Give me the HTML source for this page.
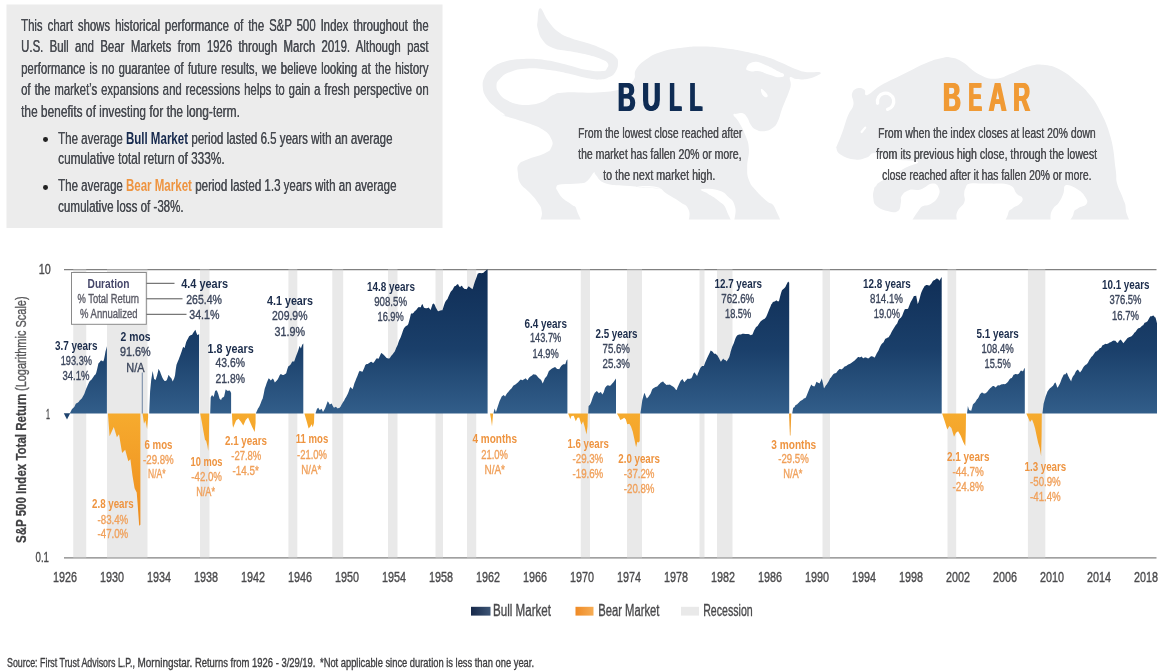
<!DOCTYPE html>
<html><head><meta charset="utf-8"><title>Bull and Bear Markets</title>
<style>
html,body{margin:0;padding:0;background:#fff;}
body{width:1169px;height:672px;overflow:hidden;position:relative;font-family:"Liberation Sans",sans-serif;}
svg{position:absolute;left:0;top:0;font-family:"Liberation Sans",sans-serif;}
b.n{color:#16294d;} b.o{color:#ee9440;}
</style></head><body>
<svg width="1169" height="672" viewBox="0 0 1169 672">
<defs>
<linearGradient id="gb" gradientUnits="userSpaceOnUse" x1="0" y1="269.6" x2="0" y2="413.6">
<stop offset="0" stop-color="#0f2d55"/><stop offset="0.55" stop-color="#1a3f6a"/><stop offset="1" stop-color="#325e8a"/></linearGradient>
<linearGradient id="go" gradientUnits="userSpaceOnUse" x1="0" y1="413.6" x2="0" y2="530">
<stop offset="0" stop-color="#f6ab2e"/><stop offset="1" stop-color="#ee8b1e"/></linearGradient>
<linearGradient id="lb" x1="0" y1="0" x2="1" y2="0"><stop offset="0" stop-color="#17294a"/><stop offset="1" stop-color="#3d5575"/></linearGradient>
<linearGradient id="lo" x1="0" y1="0" x2="1" y2="0"><stop offset="0" stop-color="#ef8a25"/><stop offset="1" stop-color="#f6ad55"/></linearGradient>
</defs>

<rect x="6.5" y="4.5" width="436" height="223.5" fill="#ececec"/>
<clipPath id="cb"><rect x="470" y="0" width="680" height="219.6"/></clipPath>
<path d="M540.2,8.2 C542.6,8.2 543.7,15.1 547.9,20.5 C552.0,26.0 552.5,27.5 558.1,31.7 C563.7,35.8 564.6,35.7 571.8,38.5 C579.0,41.3 580.9,40.8 588.9,43.6 C596.9,46.4 599.8,47.5 606.0,50.5 C612.2,53.5 612.6,53.5 615.4,56.5 C618.2,59.5 618.0,59.7 618.0,63.3 C618.0,66.9 617.4,68.7 615.4,71.9 C613.4,75.0 613.2,75.2 609.4,77.0 C605.7,78.8 604.8,79.4 599.2,79.6 C593.6,79.8 592.7,79.2 585.5,77.8 C578.3,76.4 576.8,75.4 568.4,73.6 C560.0,71.8 559.1,71.3 549.6,70.1 C540.0,68.9 536.5,68.0 527.3,68.4 C518.1,68.8 516.6,69.5 510.2,71.9 C503.8,74.3 503.1,75.5 500.0,78.7 C496.8,81.9 496.7,82.1 496.5,85.5 C496.3,88.9 496.7,89.8 499.1,93.2 C501.5,96.6 502.2,97.5 506.8,100.1 C511.4,102.7 512.8,103.4 518.8,104.4 C524.8,105.4 526.5,105.2 532.5,104.4 C538.4,103.6 539.6,103.1 544.4,100.9 C549.2,98.7 548.2,96.9 553.0,95.0 C557.8,93.0 555.0,93.0 565.0,92.4 C574.9,91.8 582.6,93.2 595.8,92.4 C608.9,91.6 612.6,91.8 621.4,89.0 C630.2,86.2 630.0,84.9 633.4,80.4 C636.8,75.9 633.0,74.5 636.0,69.6 C639.0,64.7 640.3,63.5 646.3,59.3 C652.3,55.2 652.9,54.4 661.7,51.7 C670.4,48.9 673.9,48.6 683.9,47.4 C693.9,46.2 694.9,46.3 704.4,46.5 C714.0,46.7 715.4,47.0 725.0,48.2 C734.5,49.4 735.9,49.7 745.5,51.7 C755.1,53.6 757.6,54.2 766.0,56.8 C774.4,59.4 774.2,59.8 781.4,62.8 C788.6,65.8 790.8,67.4 796.8,69.6 C802.8,71.8 801.7,71.6 807.1,72.2 C812.5,72.8 817.5,71.4 819.9,72.2 C822.3,73.0 820.3,74.0 817.4,75.6 C814.4,77.2 811.9,78.2 807.1,79.0 C802.3,79.8 800.8,79.4 796.8,79.0 C792.8,78.6 791.4,75.9 790.0,77.3 C788.6,78.7 791.2,81.2 790.8,85.0 C790.4,88.8 789.7,89.6 788.3,93.6 C786.9,97.6 786.4,98.1 784.8,102.1 C783.2,106.1 783.0,106.3 781.4,110.7 C779.8,115.1 780.0,116.9 778.0,120.9 C776.0,124.9 776.1,125.4 772.9,127.8 C769.7,130.2 768.3,130.8 764.3,131.2 C760.3,131.6 759.0,131.1 755.8,129.5 C752.6,127.9 752.6,127.2 750.6,124.4 C748.6,121.6 749.0,120.1 747.2,117.5 C745.4,114.9 745.3,114.1 742.9,113.2 C740.5,112.4 739.1,113.3 736.9,113.8 C734.7,114.2 733.1,113.1 733.5,115.0 C733.9,116.9 735.9,117.1 738.7,121.8 C741.4,126.6 743.1,129.1 745.5,135.5 C747.9,141.9 748.5,142.0 748.9,149.2 C749.3,156.4 747.2,159.1 747.2,166.3 C747.2,173.5 746.9,174.4 748.9,180.0 C750.9,185.6 751.8,185.5 755.8,190.3 C759.8,195.1 761.4,196.2 766.0,200.5 C770.6,204.9 772.6,201.5 775.4,209.1 C778.2,216.7 786.6,227.5 778.0,233.0 C769.4,238.6 748.6,239.0 738.7,233.0 C728.7,227.1 737.6,215.8 735.2,207.4 C732.8,199.0 732.4,201.1 728.4,197.1 C724.4,193.1 724.5,192.1 718.1,190.3 C711.7,188.5 703.4,188.6 701.0,189.4 C698.6,190.2 703.9,191.1 707.9,193.7 C711.8,196.3 713.7,196.6 718.1,200.5 C722.5,204.5 724.1,203.2 726.7,210.8 C729.3,218.4 737.2,227.9 729.2,233.0 C721.3,238.2 701.8,238.2 692.5,233.0 C683.1,227.9 691.8,218.0 689.0,210.8 C686.2,203.6 685.7,206.2 680.5,202.3 C675.3,198.3 672.4,197.3 666.8,193.7 C661.2,190.1 663.7,188.5 656.5,186.9 C649.3,185.3 634.2,186.5 636.0,186.9 C637.8,187.3 665.6,188.8 664.2,188.6 C662.8,188.4 643.6,187.2 630.0,186.0 C616.4,184.8 614.0,186.0 606.0,183.4 C598.0,180.8 598.6,177.5 595.8,174.9 C593.0,172.3 596.0,170.9 594.0,172.3 C592.1,173.7 590.8,178.3 587.2,180.9 C583.6,183.5 584.6,182.6 578.7,183.4 C572.7,184.2 566.7,183.5 561.5,184.3 C556.4,185.1 557.2,185.1 556.4,186.9 C555.6,188.7 556.5,189.2 558.1,192.0 C559.7,194.8 560.1,195.8 563.3,198.8 C566.4,201.8 568.6,202.0 571.8,204.8 C575.0,207.6 575.1,204.2 576.9,210.8 C578.7,217.4 587.7,227.9 579.5,233.0 C571.3,238.2 550.7,237.8 541.9,233.0 C533.1,228.3 542.9,219.7 541.9,212.5 C540.9,205.3 540.6,207.0 537.6,202.3 C534.6,197.5 533.0,196.4 529.0,192.0 C525.0,187.6 523.1,187.8 520.5,183.4 C517.9,179.0 518.3,177.6 517.9,173.2 C517.5,168.8 516.6,167.8 518.8,164.6 C521.0,161.4 521.3,162.1 527.3,159.5 C533.3,156.9 538.8,156.3 544.4,153.5 C550.0,150.7 549.7,150.9 551.3,147.5 C552.9,144.1 553.3,143.1 551.3,139.0 C549.3,134.8 549.1,133.5 542.7,129.5 C536.3,125.6 533.5,125.2 523.9,121.8 C514.3,118.5 506.1,116.6 501.7,115.0 C497.3,113.4 506.7,116.9 505.1,115.0 C503.5,113.1 499.2,111.0 494.8,106.9 C490.4,102.9 489.1,102.1 486.3,97.5 C483.5,92.9 483.2,92.0 482.8,87.3 C482.4,82.5 482.6,81.4 484.6,77.0 C486.6,72.6 486.6,72.0 491.4,68.4 C496.2,64.8 497.5,63.8 505.1,61.6 C512.7,59.4 514.7,59.4 523.9,59.0 C533.1,58.6 534.9,58.7 544.4,59.9 C554.0,61.1 555.0,61.8 565.0,64.2 C574.9,66.6 578.4,68.5 587.2,70.1 C596.0,71.7 598.0,71.4 602.6,71.0 C607.2,70.6 605.7,70.2 606.9,68.4 C608.1,66.6 609.1,65.5 607.7,63.3 C606.3,61.1 605.7,61.0 600.9,59.0 C596.1,57.0 594.4,56.5 587.2,54.7 C580.0,53.0 578.1,52.9 570.1,51.3 C562.1,49.7 559.4,50.5 553.0,47.9 C546.6,45.3 546.2,44.6 542.7,40.2 C539.2,35.8 539.1,33.7 537.9,29.1 C536.7,24.5 537.1,25.4 537.6,20.5 C538.1,15.7 537.8,8.2 540.2,8.2 Z" fill="#edeef0" clip-path="url(#cb)"/>
<path d="M746.4,67.9 C747.3,65.4 748.8,62.6 754.0,61.9 C759.3,61.2 759.6,62.8 766.0,65.3 C772.4,67.8 773.2,68.8 778.0,71.3 C782.8,73.8 783.5,73.2 784.0,74.7 C784.4,76.3 783.6,77.3 779.7,77.3 C775.8,77.3 774.9,76.3 769.4,74.7 C764.0,73.2 764.2,72.2 759.2,71.3 C754.2,70.4 754.0,72.2 750.6,71.3 C747.2,70.4 745.4,70.4 746.4,67.9 Z" fill="#fff"/>
<path d="M760.9,89.3 C761.1,87.9 762.5,89.2 764.3,91.0 C766.1,92.8 768.0,94.8 767.7,96.1 C767.5,97.5 765.3,98.0 763.5,96.1 C761.6,94.3 760.7,90.7 760.9,89.3 Z" fill="#fff"/>
<path d="M836.9,145.8 C838.4,142.3 839.9,139.2 842.4,132.1 C845.0,125.1 845.3,122.1 847.9,115.7 C850.5,109.3 852.4,109.9 853.4,104.7 C854.3,99.6 851.0,97.6 852.0,93.8 C853.0,90.0 854.6,89.3 857.5,88.3 C860.4,87.4 862.1,88.1 864.3,89.7 C866.6,91.3 863.2,96.1 867.1,95.2 C870.9,94.2 872.4,90.4 880.7,85.6 C889.1,80.8 892.4,79.7 902.6,74.6 C912.9,69.5 915.6,67.5 924.5,63.7 C933.5,59.9 934.6,59.6 941.0,58.2 C947.4,56.8 946.8,56.7 951.9,57.7 C957.0,58.6 956.5,58.4 962.9,62.3 C969.3,66.3 971.6,70.8 979.3,74.6 C987.0,78.5 988.1,79.1 995.7,78.7 C1003.4,78.4 1004.5,76.1 1012.1,73.3 C1019.8,70.4 1020.9,68.3 1028.6,66.4 C1036.2,64.5 1037.3,64.1 1045.0,65.1 C1052.7,66.0 1053.8,66.4 1061.4,70.5 C1069.1,74.7 1071.5,77.4 1077.8,82.8 C1084.2,88.3 1083.7,87.4 1088.8,93.8 C1093.9,100.2 1094.6,100.0 1099.7,110.2 C1104.9,120.4 1107.0,123.9 1110.7,137.6 C1114.4,151.3 1114.1,158.3 1115.6,169.1 C1117.1,179.8 1115.4,176.8 1117.1,183.6 C1118.8,190.4 1120.9,192.1 1122.9,198.2 C1124.9,204.3 1125.5,202.0 1125.8,209.8 C1126.1,217.6 1136.7,226.5 1124.3,231.6 C1112.0,236.7 1084.6,235.7 1072.7,231.6 C1060.8,227.6 1072.3,219.6 1073.4,214.2 C1074.6,208.7 1074.7,210.7 1077.8,208.4 C1080.9,206.0 1084.8,206.7 1086.5,204.0 C1088.2,201.3 1087.1,200.1 1085.1,196.7 C1083.0,193.3 1082.2,192.2 1077.8,189.4 C1073.4,186.7 1069.6,184.1 1066.2,185.1 C1062.8,186.1 1065.0,189.7 1063.3,193.8 C1061.6,197.9 1061.6,198.5 1058.9,202.5 C1056.2,206.6 1055.0,204.5 1051.6,211.3 C1048.2,218.0 1054.7,226.9 1044.4,231.6 C1034.0,236.4 1015.8,235.7 1007.3,231.6 C998.8,227.6 1006.8,219.6 1008.0,214.2 C1009.2,208.7 1009.6,210.7 1012.4,208.4 C1015.1,206.0 1017.3,206.4 1019.6,204.0 C1022.0,201.6 1023.2,200.5 1022.5,198.2 C1021.9,195.8 1019.8,196.9 1016.7,193.8 C1013.7,190.8 1015.6,187.5 1009.4,185.1 C1003.3,182.7 996.4,184.0 990.5,183.6 C984.7,183.3 989.3,183.6 984.5,183.6 C979.7,183.6 974.4,182.6 970.0,183.6 C965.6,184.6 967.0,185.6 965.6,188.0 C964.3,190.4 964.5,190.4 964.2,193.8 C963.8,197.2 965.9,198.1 964.2,202.5 C962.5,206.9 959.6,205.9 956.9,212.7 C954.2,219.5 962.7,227.2 952.5,231.6 C942.3,236.0 921.1,236.7 913.3,231.6 C905.5,226.5 915.0,216.3 919.1,209.8 C923.1,203.4 926.3,207.0 930.7,204.0 C935.1,200.9 936.1,200.5 938.0,196.7 C939.9,193.0 940.1,191.0 938.7,188.0 C937.4,184.9 936.4,183.3 932.2,183.6 C927.9,184.0 926.0,187.9 920.5,189.4 C915.1,191.0 913.3,188.6 908.9,190.2 C904.5,191.7 903.5,193.1 901.6,196.0 C899.8,198.9 901.7,199.0 900.9,202.5 C900.0,206.0 900.9,208.9 898.0,211.0 C895.1,213.0 893.5,212.4 888.5,211.3 C883.6,210.1 880.5,209.2 876.9,206.2 C873.3,203.1 873.9,202.1 873.3,198.2 C872.6,194.3 873.3,192.3 874.0,189.4 C874.6,186.6 874.6,187.7 876.0,186.0 C877.4,184.2 876.2,184.3 880.0,182.0 C883.7,179.7 886.2,179.3 892.0,176.1 C897.9,172.8 898.9,171.4 905.0,168.1 C911.0,164.8 919.2,163.8 918.1,162.0 C916.9,160.1 907.7,161.2 900.0,160.1 C892.3,158.9 891.1,158.7 885.0,157.0 C879.0,155.4 878.3,152.8 874.0,152.9 C869.7,153.0 871.1,155.9 866.7,157.5 C862.3,159.0 861.2,160.3 855.1,159.6 C849.0,159.0 845.0,157.4 840.5,154.5 C836.1,151.7 837.0,149.3 836.2,147.3 C835.3,145.2 835.5,149.3 836.9,145.8 Z" fill="#edeef0" clip-path="url(#cb)"/>
<path d="M877.6,103.2 A8.2,8.2 0 1 1 887.6,109.3" fill="none" stroke="#fff" stroke-width="3.3" stroke-linecap="round"/>
<path d="M861.6,132.0 L865.2,127.6" fill="none" stroke="#fff" stroke-width="2.2" stroke-linecap="round"/>
<line x1="64" x2="1156.5" y1="269.70000000000005" y2="269.70000000000005" stroke="#808080" stroke-width="1.2"/>
<line x1="64" x2="1156.5" y1="557.8" y2="557.8" stroke="#808080" stroke-width="1.2"/>
<rect x="73.25" y="269.0" width="13.00" height="289.6" fill="#cfcfcf" fill-opacity="0.46"/>
<rect x="107" y="269.0" width="40.50" height="289.6" fill="#cfcfcf" fill-opacity="0.46"/>
<rect x="200" y="269.0" width="9.50" height="289.6" fill="#cfcfcf" fill-opacity="0.46"/>
<rect x="288.4" y="269.0" width="8.90" height="289.6" fill="#cfcfcf" fill-opacity="0.46"/>
<rect x="332.3" y="269.0" width="10.90" height="289.6" fill="#cfcfcf" fill-opacity="0.46"/>
<rect x="388" y="269.0" width="9.50" height="289.6" fill="#cfcfcf" fill-opacity="0.46"/>
<rect x="435.5" y="269.0" width="7.50" height="289.6" fill="#cfcfcf" fill-opacity="0.46"/>
<rect x="467" y="269.0" width="9.25" height="289.6" fill="#cfcfcf" fill-opacity="0.46"/>
<rect x="580.75" y="269.0" width="9.25" height="289.6" fill="#cfcfcf" fill-opacity="0.46"/>
<rect x="627" y="269.0" width="15.00" height="289.6" fill="#cfcfcf" fill-opacity="0.46"/>
<rect x="699.5" y="269.0" width="5.00" height="289.6" fill="#cfcfcf" fill-opacity="0.46"/>
<rect x="717" y="269.0" width="15.50" height="289.6" fill="#cfcfcf" fill-opacity="0.46"/>
<rect x="822.5" y="269.0" width="7.50" height="289.6" fill="#cfcfcf" fill-opacity="0.46"/>
<rect x="947.5" y="269.0" width="8.70" height="289.6" fill="#cfcfcf" fill-opacity="0.46"/>
<rect x="1027.9" y="269.0" width="17.40" height="289.6" fill="#cfcfcf" fill-opacity="0.46"/>
<path d="M63.8,413.3 L70.2,413.3 L67,419.6 Z" fill="#1f446f"/>
<path d="M70.1,413.6 L70.1,412.7 L70.9,411.2 L71.6,409.8 L72.3,408.7 L73.0,408.2 L73.7,407.5 L74.4,406.8 L75.1,405.3 L75.8,403.7 L76.5,403.3 L77.2,403.1 L77.9,402.6 L78.6,402.1 L79.3,401.1 L80.0,400.1 L80.8,399.5 L81.5,398.8 L82.2,397.7 L82.9,396.5 L83.6,395.2 L84.3,393.9 L85.0,391.9 L85.7,390.0 L86.4,388.3 L87.1,386.7 L87.8,385.1 L88.5,383.5 L89.2,382.1 L89.9,380.9 L90.7,380.3 L91.4,379.7 L92.1,378.7 L92.8,377.8 L93.5,376.7 L94.2,375.5 L94.9,374.9 L95.6,374.3 L96.3,372.5 L97.0,369.7 L97.7,366.7 L98.4,363.6 L99.1,362.8 L99.8,361.9 L100.6,360.8 L101.3,360.4 L102.0,360.8 L102.7,361.3 L103.4,361.3 L104.1,359.0 L104.8,355.4 L105.5,351.6 L106.2,348.9 L106.9,346.3 L106.9,413.6 Z" fill="url(#gb)"/>
<rect x="141.8" y="372.5" width="0.9" height="41.1" fill="#627a9a"/>
<path d="M149.2,413.6 L149.2,413.0 L150.1,391.6 L151.2,380.1 L151.9,375.7 L152.6,371.0 L153.4,374.9 L154.1,378.9 L154.9,379.5 L155.6,380.1 L156.4,377.5 L157.1,375.2 L157.9,372.0 L158.6,368.8 L159.3,370.3 L160.1,371.8 L160.8,373.8 L161.6,375.7 L162.3,377.5 L163.1,379.1 L163.8,380.1 L164.6,381.1 L165.3,380.9 L166.0,380.7 L166.8,380.0 L167.7,377.4 L168.6,374.7 L169.5,376.2 L170.5,377.6 L171.2,378.1 L172.0,379.7 L172.7,381.4 L173.5,379.8 L174.2,378.2 L175.0,375.5 L175.7,369.8 L176.5,364.8 L177.2,362.9 L177.9,361.2 L178.7,359.5 L179.4,357.5 L180.2,355.5 L180.9,353.4 L181.7,351.3 L182.4,349.0 L183.2,346.8 L183.9,347.4 L184.6,347.9 L185.4,345.1 L186.1,342.3 L186.9,340.4 L187.6,339.2 L188.4,337.7 L189.1,336.2 L189.9,335.7 L190.6,335.2 L191.3,335.0 L192.1,334.8 L192.8,333.5 L193.6,332.3 L194.5,331.0 L195.4,329.7 L196.3,332.5 L197.3,335.1 L198.2,334.8 L199.1,334.1 L199.1,413.6 Z" fill="url(#gb)"/>
<path d="M210.2,413.6 L210.2,413.0 L210.7,397.5 L211.4,396.0 L212.2,395.1 L212.9,396.2 L213.7,396.7 L214.4,394.0 L215.1,391.1 L215.9,390.4 L216.6,390.2 L217.4,391.8 L218.1,393.4 L218.9,396.2 L219.6,398.8 L220.4,399.5 L221.1,400.0 L221.8,398.3 L222.6,397.4 L223.3,397.3 L224.1,396.6 L224.8,393.4 L225.6,389.4 L226.3,389.8 L227.1,390.7 L227.8,390.8 L228.5,390.7 L229.3,390.5 L230.0,390.8 L231.1,392.9 L231.1,413.6 Z" fill="url(#gb)"/>
<path d="M256.0,413.6 L256.0,413.0 L257.0,410.8 L258.0,408.6 L258.9,407.3 L259.8,405.5 L260.7,403.2 L261.7,400.6 L262.7,398.6 L263.7,393.9 L264.7,388.8 L265.7,385.9 L266.7,382.9 L267.7,380.5 L268.7,378.2 L269.8,379.3 L270.8,380.5 L271.8,379.4 L272.8,378.4 L273.8,380.1 L274.8,382.4 L275.8,381.6 L276.8,380.5 L277.8,379.2 L278.8,377.3 L279.8,375.0 L280.8,373.9 L281.7,374.6 L282.6,374.9 L283.5,375.0 L284.4,374.5 L285.3,374.0 L286.2,373.2 L287.2,369.5 L288.2,366.5 L289.2,365.7 L290.2,365.1 L291.2,363.5 L292.2,361.4 L293.2,361.4 L294.2,361.4 L295.2,358.4 L296.2,355.8 L297.2,353.3 L298.2,350.6 L299.6,346.0 L300.9,348.4 L302.2,344.7 L303.3,343.4 L303.3,413.6 Z" fill="url(#gb)"/>
<path d="M315.6,413.6 L315.6,413.0 L317.0,408.8 L318.3,407.8 L319.6,409.9 L320.6,409.6 L321.6,408.8 L323.0,411.9 L324.0,410.2 L325.0,408.4 L325.9,406.2 L326.8,403.8 L327.7,401.2 L328.7,402.4 L329.7,404.4 L330.7,404.0 L331.7,403.6 L332.7,405.8 L333.7,407.6 L334.7,407.5 L335.7,406.8 L336.7,407.4 L337.7,408.5 L338.7,408.1 L339.7,407.7 L340.6,406.4 L341.5,404.8 L342.4,403.2 L343.3,401.8 L344.2,400.4 L345.1,398.6 L346.0,397.2 L346.9,395.5 L347.8,393.8 L348.7,391.4 L349.5,388.9 L350.4,386.9 L351.4,388.1 L352.5,389.2 L353.5,386.4 L354.5,383.0 L355.4,380.9 L356.2,378.8 L357.1,376.7 L358.0,374.4 L358.9,372.1 L359.8,370.7 L360.7,371.3 L361.6,371.5 L362.5,371.7 L363.4,369.8 L364.3,367.8 L365.2,365.2 L366.1,364.2 L367.0,364.1 L367.9,363.9 L368.7,363.3 L369.6,362.7 L370.5,362.0 L371.4,361.8 L372.3,362.4 L373.2,363.0 L374.1,361.9 L375.0,360.8 L375.9,359.2 L376.8,358.2 L377.7,358.4 L378.6,358.7 L379.5,356.7 L380.4,354.8 L381.2,353.0 L382.1,353.4 L383.0,354.2 L383.9,354.9 L384.8,356.0 L385.7,357.1 L386.6,357.9 L387.5,358.2 L388.4,358.4 L389.3,358.6 L390.2,357.4 L391.1,356.1 L392.0,355.1 L392.9,353.9 L393.7,352.8 L394.6,351.7 L395.4,349.9 L396.1,348.1 L396.9,346.4 L397.7,344.8 L398.4,342.5 L399.2,340.2 L400.0,338.8 L400.7,337.3 L401.5,335.0 L402.3,332.7 L403.1,330.2 L404.0,328.2 L404.8,327.2 L405.7,326.2 L406.6,325.7 L407.5,325.3 L408.3,324.1 L409.2,320.7 L410.1,317.2 L411.0,313.6 L411.8,313.6 L412.7,313.5 L413.6,312.8 L414.4,311.6 L415.3,310.7 L416.2,309.9 L417.1,308.8 L417.9,307.7 L418.8,307.0 L419.8,307.3 L420.8,307.3 L421.6,305.1 L422.5,303.9 L423.3,306.2 L424.0,307.7 L424.9,308.0 L425.8,308.2 L426.7,308.3 L427.7,308.0 L428.6,307.6 L429.6,308.8 L430.6,309.9 L431.6,307.0 L432.6,304.1 L433.9,303.4 L434.9,305.3 L435.8,307.5 L436.8,309.3 L437.8,311.0 L438.7,311.3 L439.5,310.8 L440.4,310.4 L441.4,310.3 L442.4,310.2 L443.3,307.6 L444.1,304.9 L445.0,302.6 L445.8,301.1 L446.6,300.0 L447.5,298.9 L448.3,297.0 L449.1,295.3 L449.9,293.5 L450.7,291.7 L451.6,290.7 L452.4,290.0 L453.2,288.5 L454.0,287.0 L454.8,286.1 L455.6,285.9 L456.5,285.0 L457.3,284.2 L458.1,284.3 L459.1,286.3 L460.1,287.3 L461.0,286.0 L462.0,285.8 L462.9,287.5 L463.8,288.2 L464.6,288.9 L465.6,289.1 L466.6,289.3 L467.6,287.7 L468.6,286.2 L469.6,287.0 L470.5,287.8 L471.5,288.5 L472.5,289.2 L473.4,286.4 L474.3,283.5 L475.1,281.1 L476.0,278.8 L476.9,276.3 L477.7,273.8 L478.6,273.3 L479.5,272.9 L480.4,273.1 L481.2,273.2 L482.1,273.1 L483.0,273.0 L484.0,272.2 L484.9,271.3 L485.7,270.7 L486.4,270.1 L487.2,269.4 L487.6,269.6 L487.6,413.6 Z" fill="url(#gb)"/>
<path d="M493.5,413.6 L493.5,413.2 L494.6,408.4 L495.9,412.2 L496.8,409.6 L497.6,406.9 L498.6,404.0 L499.6,401.1 L500.7,398.8 L501.7,396.5 L502.7,395.8 L503.7,395.1 L505.1,396.6 L506.1,394.7 L507.2,393.0 L508.1,392.2 L509.0,391.1 L509.9,390.0 L510.8,389.1 L511.7,388.2 L512.6,386.8 L513.5,385.4 L514.5,384.9 L515.4,384.5 L516.3,383.8 L517.2,383.1 L518.1,382.2 L519.0,381.2 L519.9,380.3 L520.8,379.6 L521.8,379.9 L522.7,380.2 L523.6,379.5 L524.6,378.9 L525.6,378.3 L526.7,379.4 L527.7,380.2 L528.6,378.2 L529.5,377.3 L530.4,376.5 L531.3,375.9 L532.3,375.3 L533.2,374.2 L534.2,374.4 L535.2,374.4 L536.2,375.1 L537.3,376.2 L538.3,377.6 L539.3,378.5 L540.4,379.3 L541.4,380.5 L542.7,383.5 L543.8,381.0 L544.8,378.6 L545.8,377.2 L546.9,375.9 L547.9,373.5 L548.9,371.1 L549.9,370.2 L551.0,369.3 L552.0,368.6 L553.0,367.9 L554.0,367.5 L555.1,367.1 L556.1,368.0 L557.1,368.9 L558.1,369.1 L559.2,369.2 L560.2,367.6 L561.2,365.9 L562.3,365.1 L563.3,364.3 L564.3,364.3 L565.3,364.3 L566.7,360.1 L567.4,359.4 L567.4,413.6 Z" fill="url(#gb)"/>
<path d="M588.2,413.6 L588.2,413.2 L588.6,405.9 L590.0,404.8 L591.3,401.7 L592.7,397.5 L593.7,395.1 L594.8,392.7 L595.8,391.9 L596.8,391.1 L597.8,391.9 L598.9,393.2 L599.9,392.5 L600.9,391.9 L602.3,394.5 L603.7,392.2 L605.0,388.1 L606.1,386.6 L607.1,385.4 L608.1,385.3 L609.1,385.7 L610.2,385.7 L611.2,384.8 L612.2,383.6 L613.2,382.5 L614.3,381.0 L615.3,379.5 L616.0,378.5 L616.0,413.6 Z" fill="url(#gb)"/>
<path d="M640.5,413.6 L640.5,412.8 L641.4,406.4 L642.3,400.2 L643.1,397.2 L643.8,394.8 L644.6,392.8 L645.4,395.3 L646.1,396.9 L646.9,398.4 L647.8,397.6 L648.7,396.5 L649.6,395.0 L650.4,393.9 L651.3,391.7 L652.1,389.5 L653.0,388.4 L653.8,388.1 L654.7,387.6 L655.5,387.0 L656.4,386.7 L657.2,386.6 L658.1,385.5 L658.9,384.4 L659.8,383.7 L660.6,382.8 L661.5,382.2 L662.3,381.7 L663.2,381.5 L664.0,382.8 L664.9,383.5 L665.7,384.2 L666.5,385.0 L667.4,384.7 L668.2,384.7 L669.1,384.7 L669.9,384.6 L670.8,385.3 L671.6,385.7 L672.5,386.2 L673.3,386.8 L674.2,387.5 L675.0,388.6 L675.9,389.7 L676.7,389.9 L677.5,387.6 L678.2,386.0 L679.0,384.2 L679.8,382.5 L680.7,380.8 L681.5,379.9 L682.4,379.0 L683.1,380.3 L683.9,381.6 L684.7,382.3 L685.5,380.8 L686.4,379.9 L687.2,379.1 L688.0,378.5 L688.9,378.9 L689.7,378.7 L690.6,378.5 L691.4,378.2 L692.2,376.7 L692.9,375.1 L693.6,373.2 L694.4,372.3 L695.3,373.6 L696.2,374.8 L697.1,375.9 L697.9,373.6 L698.8,371.4 L699.6,369.5 L700.5,367.7 L701.3,366.8 L702.2,365.9 L703.0,365.9 L703.9,366.0 L704.7,363.7 L705.6,361.5 L706.4,359.7 L707.3,357.8 L708.1,356.0 L709.0,354.3 L709.8,352.4 L710.7,350.5 L711.5,351.0 L712.4,351.4 L713.2,352.6 L714.1,353.8 L714.9,353.8 L715.8,353.8 L716.6,354.7 L717.5,355.5 L718.3,357.1 L719.2,358.6 L720.0,360.2 L720.9,361.8 L721.6,360.8 L722.4,359.8 L723.1,358.6 L724.0,359.5 L724.8,359.9 L725.7,360.2 L726.5,361.4 L727.4,360.3 L728.3,358.7 L729.2,357.2 L730.0,354.4 L730.7,351.5 L731.4,349.2 L732.2,346.8 L733.0,345.0 L733.9,343.1 L734.7,340.6 L735.6,338.0 L736.4,336.6 L737.3,335.2 L738.1,334.9 L739.0,334.6 L739.8,334.6 L740.7,334.6 L741.5,334.2 L742.4,333.8 L743.2,333.8 L744.1,333.8 L744.9,333.9 L745.8,333.9 L746.6,333.9 L747.5,333.9 L748.3,334.1 L749.1,334.3 L750.0,334.8 L750.8,335.2 L751.7,334.8 L752.5,334.4 L753.4,332.2 L754.2,330.2 L755.1,328.7 L755.9,327.2 L756.8,326.6 L757.6,325.9 L758.5,324.6 L759.3,323.3 L760.2,322.1 L761.0,321.0 L761.9,320.4 L762.7,319.7 L763.6,319.3 L764.4,318.9 L765.3,318.0 L766.1,317.1 L767.0,315.0 L767.8,313.0 L768.7,310.8 L769.5,308.7 L770.4,306.7 L771.2,304.6 L772.1,303.4 L772.9,302.1 L773.8,301.8 L774.6,301.5 L775.5,300.9 L776.3,300.3 L777.2,300.9 L778.1,301.6 L779.0,301.1 L779.8,297.7 L780.5,295.1 L781.2,292.6 L782.0,290.2 L782.8,289.4 L783.7,288.7 L784.5,288.0 L785.4,287.0 L786.3,284.9 L787.2,283.3 L788.1,281.6 L789.2,282.7 L789.2,413.6 Z" fill="url(#gb)"/>
<path d="M792.3,413.6 L792.3,412.8 L793.2,407.7 L794.0,407.6 L794.7,406.8 L795.4,405.2 L796.2,404.8 L797.0,404.6 L797.9,403.6 L798.7,402.7 L799.6,401.8 L800.4,400.9 L801.3,400.4 L802.1,399.9 L803.0,399.5 L803.8,398.5 L804.7,398.3 L805.5,398.1 L806.4,396.3 L807.1,394.5 L807.9,392.6 L808.6,390.7 L809.5,388.6 L810.4,386.6 L811.3,384.6 L812.1,385.5 L812.8,385.9 L813.6,386.2 L814.3,386.6 L815.0,385.5 L815.8,383.6 L816.5,381.7 L817.3,382.2 L818.0,382.8 L818.8,383.1 L819.5,383.5 L820.2,382.0 L821.0,380.6 L821.8,378.3 L822.5,381.4 L823.3,385.0 L824.0,388.6 L824.9,387.1 L825.8,385.6 L826.7,384.4 L827.6,383.1 L828.4,381.7 L829.3,380.1 L830.1,378.2 L831.0,377.5 L831.8,376.2 L832.7,374.9 L833.5,374.0 L834.4,373.6 L835.2,373.3 L836.1,373.0 L836.9,372.1 L837.8,370.7 L838.6,369.9 L839.5,369.1 L840.3,369.0 L841.2,369.4 L842.0,368.9 L842.9,368.4 L843.7,367.5 L844.6,366.5 L845.4,366.3 L846.3,366.1 L847.1,365.2 L847.9,364.7 L848.8,364.3 L849.6,364.0 L850.5,363.6 L851.3,362.9 L852.2,362.3 L853.0,361.7 L853.9,361.1 L854.7,360.5 L855.6,359.6 L856.4,358.7 L857.3,357.7 L858.1,356.9 L859.0,357.1 L859.8,357.5 L860.7,356.9 L861.5,356.6 L862.4,357.4 L863.2,358.2 L864.1,357.9 L864.9,357.3 L865.8,357.5 L866.6,357.7 L867.5,358.2 L868.3,358.4 L869.2,357.8 L870.0,357.2 L870.9,356.3 L871.7,356.3 L872.6,356.5 L873.4,356.8 L874.3,357.7 L875.1,356.7 L876.0,355.0 L876.8,353.2 L877.6,351.9 L878.5,350.6 L879.3,348.5 L880.2,346.4 L881.0,344.9 L881.9,343.8 L882.7,343.0 L883.6,342.3 L884.4,340.6 L885.3,338.8 L886.1,338.4 L887.0,338.0 L887.8,337.6 L888.7,337.2 L889.5,335.8 L890.4,334.6 L891.2,332.8 L892.1,331.0 L892.9,329.7 L893.8,328.3 L894.6,327.0 L895.5,325.4 L896.3,324.5 L897.2,323.5 L898.0,321.3 L898.9,319.3 L899.7,318.6 L900.6,317.9 L901.4,317.0 L902.3,315.5 L903.1,313.3 L904.0,311.1 L904.8,309.3 L905.7,309.0 L906.5,309.1 L907.4,309.1 L908.2,308.4 L909.0,306.2 L909.9,304.1 L910.7,302.0 L911.6,300.5 L912.3,299.2 L913.1,297.7 L913.9,296.1 L914.6,296.0 L915.4,295.9 L916.1,295.4 L916.9,299.4 L917.7,304.0 L918.4,302.5 L919.2,299.9 L919.9,297.5 L920.6,294.7 L921.4,292.3 L922.2,290.6 L922.9,288.9 L923.8,287.4 L924.6,285.9 L925.5,285.4 L926.3,285.0 L927.2,285.1 L928.0,285.3 L928.8,285.4 L929.7,285.6 L930.5,284.5 L931.4,283.5 L932.2,282.1 L933.1,280.8 L933.9,280.3 L934.8,279.9 L935.6,279.2 L936.5,278.6 L937.2,278.7 L938.0,278.8 L938.7,279.8 L939.4,280.8 L940.2,279.5 L940.9,278.2 L941.7,277.1 L941.7,413.6 Z" fill="url(#gb)"/>
<path d="M967.1,413.6 L967.1,412.9 L967.9,406.1 L968.6,408.5 L969.3,410.2 L970.2,410.2 L971.1,411.1 L972.0,408.0 L972.9,404.6 L973.6,403.8 L974.4,403.0 L975.2,402.2 L976.1,400.7 L977.0,399.2 L977.9,398.6 L978.6,397.2 L979.3,395.7 L980.0,394.3 L980.8,393.5 L981.5,392.7 L982.3,392.6 L983.2,393.3 L984.1,393.5 L985.0,393.6 L985.9,392.9 L986.8,392.2 L987.7,391.2 L988.6,389.9 L989.5,389.0 L990.4,388.1 L991.2,387.4 L992.1,386.6 L993.0,386.0 L993.9,386.0 L994.8,386.8 L995.7,387.5 L996.6,386.5 L997.5,385.5 L998.4,385.2 L999.3,385.5 L1000.2,384.9 L1001.1,384.4 L1002.0,384.3 L1002.9,384.2 L1003.8,384.1 L1004.6,384.3 L1005.5,383.9 L1006.4,383.3 L1007.3,382.4 L1008.2,381.5 L1009.1,380.0 L1010.0,378.8 L1010.9,378.3 L1011.8,377.9 L1012.7,376.4 L1013.6,374.8 L1014.5,374.4 L1015.4,374.0 L1016.2,374.1 L1017.1,374.5 L1018.0,374.1 L1018.9,373.7 L1019.8,372.2 L1020.7,370.8 L1021.4,370.7 L1022.1,370.8 L1022.9,371.6 L1023.6,370.1 L1024.3,368.1 L1024.8,368.8 L1024.8,413.6 Z" fill="url(#gb)"/>
<path d="M1042.5,413.6 L1042.5,412.9 L1043.6,403.7 L1044.3,401.3 L1045.0,398.8 L1045.7,396.2 L1046.6,393.9 L1047.5,391.6 L1048.4,390.2 L1049.3,389.1 L1050.2,388.1 L1051.1,387.4 L1052.0,386.6 L1052.9,385.9 L1053.8,384.4 L1054.6,383.1 L1055.5,382.4 L1056.4,384.8 L1057.3,387.8 L1058.2,386.8 L1059.1,385.1 L1060.0,383.4 L1060.9,380.9 L1061.8,378.5 L1062.7,376.7 L1063.6,374.8 L1064.5,374.3 L1065.2,374.4 L1066.0,373.5 L1066.8,372.4 L1067.5,374.2 L1068.2,376.0 L1068.9,377.2 L1069.6,378.7 L1070.4,380.0 L1071.1,381.4 L1071.8,379.1 L1072.6,376.9 L1073.4,375.8 L1074.3,374.7 L1075.2,372.8 L1076.1,370.9 L1077.0,370.2 L1077.9,369.5 L1078.6,370.4 L1079.3,371.4 L1080.0,372.4 L1080.8,371.6 L1081.6,370.4 L1082.4,369.1 L1083.2,367.6 L1083.9,366.6 L1084.6,365.8 L1085.4,364.9 L1086.1,364.6 L1086.8,364.2 L1087.5,363.2 L1088.2,362.2 L1088.9,360.8 L1089.6,359.5 L1090.4,358.4 L1091.1,357.3 L1091.8,356.6 L1092.5,355.9 L1093.2,355.0 L1093.9,354.1 L1094.6,352.9 L1095.4,351.7 L1096.1,351.4 L1096.8,351.2 L1097.5,350.6 L1098.2,350.3 L1098.9,349.3 L1099.6,348.3 L1100.4,348.1 L1101.1,347.8 L1101.8,346.5 L1102.5,345.2 L1103.2,345.0 L1103.9,344.8 L1104.6,344.2 L1105.4,343.8 L1106.1,343.9 L1106.8,343.9 L1107.5,343.7 L1108.2,343.4 L1108.9,343.0 L1109.6,342.6 L1110.4,342.2 L1111.1,341.9 L1111.8,341.5 L1112.5,341.1 L1113.2,340.8 L1113.9,340.6 L1114.6,340.7 L1115.4,340.8 L1116.2,341.8 L1117.1,342.8 L1118.0,342.7 L1118.9,341.1 L1119.8,340.2 L1120.7,339.4 L1121.6,340.7 L1122.5,342.0 L1123.4,343.2 L1124.3,342.0 L1125.2,340.9 L1126.1,339.8 L1126.8,338.9 L1127.5,338.1 L1128.2,337.7 L1128.9,337.3 L1129.6,337.0 L1130.4,336.8 L1131.1,336.4 L1131.8,336.1 L1132.5,335.3 L1133.2,334.6 L1133.9,333.6 L1134.6,332.6 L1135.4,331.9 L1136.1,331.1 L1136.8,330.0 L1137.5,329.0 L1138.2,328.6 L1138.9,328.1 L1139.6,327.9 L1140.4,327.6 L1141.1,326.7 L1141.8,325.9 L1142.5,325.5 L1143.2,325.2 L1143.9,324.0 L1144.6,322.8 L1145.4,322.6 L1146.1,322.3 L1146.8,321.7 L1147.5,321.2 L1148.2,320.0 L1148.9,318.8 L1149.6,317.5 L1150.4,316.2 L1151.1,316.3 L1151.8,316.3 L1152.6,315.8 L1153.4,315.4 L1154.1,316.3 L1154.8,317.3 L1155.5,317.4 L1156.2,320.1 L1157.0,323.2 L1157.0,413.6 Z" fill="url(#gb)"/>
<path d="M107.9,413.6 L107.9,413.3 L109.6,436.2 L113.8,426.9 L116.9,437.3 L119.0,434.2 L122.1,452.9 L125.2,449.8 L128.3,461.2 L130.4,459.2 L132.5,475.8 L134.6,488.3 L136.7,492.5 L137.7,505.0 L139.2,525.8 L140.4,524.8 L140.4,413.6 Z" fill="url(#go)"/>
<path d="M142.5,413.6 L142.5,413.3 L144.0,423.8 L145.4,420.6 L147.1,429.0 L148.1,417.5 L148.1,413.6 Z" fill="url(#go)"/>
<path d="M200.2,413.6 L200.2,413.4 L202.0,423.0 L203.2,430.1 L205.0,439.7 L206.2,440.9 L207.4,445.7 L208.2,451.1 L208.9,440.9 L209.2,413.6 L209.2,413.6 Z" fill="url(#go)"/>
<path d="M231.9,413.6 L231.9,413.4 L232.5,424.2 L233.1,427.8 L236.1,420.6 L238.5,418.8 L240.9,421.8 L243.3,425.4 L245.7,420.0 L248.1,417.6 L249.9,421.8 L252.3,427.2 L254.7,431.9 L255.6,423.0 L255.6,413.6 L255.6,413.6 Z" fill="url(#go)"/>
<path d="M304.4,413.6 L304.4,413.4 L306.8,421.8 L308.6,428.4 L310.4,426.6 L311.6,424.2 L312.8,427.2 L314.0,423.0 L314.3,413.6 L314.3,413.6 Z" fill="url(#go)"/>
<path d="M490.0,413.6 L490.0,413.0 L491.2,420.0 L492.0,426.2 L493.0,415.0 L493.0,413.6 Z" fill="url(#go)"/>
<path d="M568.1,413.6 L568.1,413.6 L570.3,419.1 L571.5,416.1 L573.7,415.7 L575.8,421.3 L577.5,417.8 L579.2,417.4 L581.4,424.7 L583.1,421.3 L584.8,427.2 L586.5,434.5 L587.5,426.4 L587.8,413.7 L587.8,413.6 Z" fill="url(#go)"/>
<path d="M616.9,413.6 L616.9,413.6 L619.0,417.0 L620.3,420.0 L622.4,419.1 L624.2,417.8 L625.9,419.5 L627.2,424.2 L629.3,423.8 L631.0,426.4 L632.7,431.5 L634.4,439.2 L636.1,447.3 L637.4,441.8 L638.7,442.6 L639.7,440.9 L640.0,413.7 L640.0,413.6 Z" fill="url(#go)"/>
<path d="M789.0,413.6 L791.3,413.6 L790.5,435.6 L789.9,435.6 Z" fill="#f0a030"/>
<path d="M942.2,413.6 L942.2,413.7 L944.8,421.4 L947.3,429.6 L949.4,426.0 L951.4,428.1 L954.0,436.8 L956.0,432.7 L958.1,431.2 L960.7,435.8 L963.2,442.0 L965.3,446.1 L965.8,430.7 L966.0,413.9 L966.0,413.6 Z" fill="url(#go)"/>
<path d="M1026.4,413.6 L1026.4,413.7 L1028.4,418.3 L1030.0,421.9 L1032.0,419.4 L1033.6,423.5 L1035.1,428.6 L1036.6,435.8 L1038.2,443.0 L1039.7,448.1 L1041.1,456.0 L1041.6,435.8 L1041.8,413.9 L1041.8,413.6 Z" fill="url(#go)"/>
<text x="38.75" y="274.30" font-size="14.3" font-weight="400" fill="#4a4a4c" textLength="12.00" lengthAdjust="spacingAndGlyphs" stroke="#4a4a4c" stroke-width="0.35">10</text>
<text x="46.00" y="418.60" font-size="14.3" font-weight="400" fill="#4a4a4c" textLength="4.00" lengthAdjust="spacingAndGlyphs" stroke="#4a4a4c" stroke-width="0.35">1</text>
<text x="35.50" y="562.40" font-size="14.3" font-weight="400" fill="#4a4a4c" textLength="13.50" lengthAdjust="spacingAndGlyphs" stroke="#4a4a4c" stroke-width="0.35">0.1</text>
<text x="53.00" y="582.30" font-size="14.4" font-weight="400" fill="#4a4a4c" textLength="24.00" lengthAdjust="spacingAndGlyphs" stroke="#4a4a4c" stroke-width="0.35">1926</text>
<text x="100.00" y="582.30" font-size="14.4" font-weight="400" fill="#4a4a4c" textLength="24.00" lengthAdjust="spacingAndGlyphs" stroke="#4a4a4c" stroke-width="0.35">1930</text>
<text x="147.00" y="582.30" font-size="14.4" font-weight="400" fill="#4a4a4c" textLength="24.00" lengthAdjust="spacingAndGlyphs" stroke="#4a4a4c" stroke-width="0.35">1934</text>
<text x="194.00" y="582.30" font-size="14.4" font-weight="400" fill="#4a4a4c" textLength="24.00" lengthAdjust="spacingAndGlyphs" stroke="#4a4a4c" stroke-width="0.35">1938</text>
<text x="241.00" y="582.30" font-size="14.4" font-weight="400" fill="#4a4a4c" textLength="24.00" lengthAdjust="spacingAndGlyphs" stroke="#4a4a4c" stroke-width="0.35">1942</text>
<text x="288.00" y="582.30" font-size="14.4" font-weight="400" fill="#4a4a4c" textLength="24.00" lengthAdjust="spacingAndGlyphs" stroke="#4a4a4c" stroke-width="0.35">1946</text>
<text x="335.00" y="582.30" font-size="14.4" font-weight="400" fill="#4a4a4c" textLength="24.00" lengthAdjust="spacingAndGlyphs" stroke="#4a4a4c" stroke-width="0.35">1950</text>
<text x="382.00" y="582.30" font-size="14.4" font-weight="400" fill="#4a4a4c" textLength="24.00" lengthAdjust="spacingAndGlyphs" stroke="#4a4a4c" stroke-width="0.35">1954</text>
<text x="429.00" y="582.30" font-size="14.4" font-weight="400" fill="#4a4a4c" textLength="24.00" lengthAdjust="spacingAndGlyphs" stroke="#4a4a4c" stroke-width="0.35">1958</text>
<text x="476.00" y="582.30" font-size="14.4" font-weight="400" fill="#4a4a4c" textLength="24.00" lengthAdjust="spacingAndGlyphs" stroke="#4a4a4c" stroke-width="0.35">1962</text>
<text x="523.00" y="582.30" font-size="14.4" font-weight="400" fill="#4a4a4c" textLength="24.00" lengthAdjust="spacingAndGlyphs" stroke="#4a4a4c" stroke-width="0.35">1966</text>
<text x="570.00" y="582.30" font-size="14.4" font-weight="400" fill="#4a4a4c" textLength="24.00" lengthAdjust="spacingAndGlyphs" stroke="#4a4a4c" stroke-width="0.35">1970</text>
<text x="617.00" y="582.30" font-size="14.4" font-weight="400" fill="#4a4a4c" textLength="24.00" lengthAdjust="spacingAndGlyphs" stroke="#4a4a4c" stroke-width="0.35">1974</text>
<text x="664.00" y="582.30" font-size="14.4" font-weight="400" fill="#4a4a4c" textLength="24.00" lengthAdjust="spacingAndGlyphs" stroke="#4a4a4c" stroke-width="0.35">1978</text>
<text x="711.00" y="582.30" font-size="14.4" font-weight="400" fill="#4a4a4c" textLength="24.00" lengthAdjust="spacingAndGlyphs" stroke="#4a4a4c" stroke-width="0.35">1982</text>
<text x="758.00" y="582.30" font-size="14.4" font-weight="400" fill="#4a4a4c" textLength="24.00" lengthAdjust="spacingAndGlyphs" stroke="#4a4a4c" stroke-width="0.35">1986</text>
<text x="805.00" y="582.30" font-size="14.4" font-weight="400" fill="#4a4a4c" textLength="24.00" lengthAdjust="spacingAndGlyphs" stroke="#4a4a4c" stroke-width="0.35">1990</text>
<text x="852.00" y="582.30" font-size="14.4" font-weight="400" fill="#4a4a4c" textLength="24.00" lengthAdjust="spacingAndGlyphs" stroke="#4a4a4c" stroke-width="0.35">1994</text>
<text x="899.00" y="582.30" font-size="14.4" font-weight="400" fill="#4a4a4c" textLength="24.00" lengthAdjust="spacingAndGlyphs" stroke="#4a4a4c" stroke-width="0.35">1998</text>
<text x="946.00" y="582.30" font-size="14.4" font-weight="400" fill="#4a4a4c" textLength="24.00" lengthAdjust="spacingAndGlyphs" stroke="#4a4a4c" stroke-width="0.35">2002</text>
<text x="993.00" y="582.30" font-size="14.4" font-weight="400" fill="#4a4a4c" textLength="24.00" lengthAdjust="spacingAndGlyphs" stroke="#4a4a4c" stroke-width="0.35">2006</text>
<text x="1040.00" y="582.30" font-size="14.4" font-weight="400" fill="#4a4a4c" textLength="24.00" lengthAdjust="spacingAndGlyphs" stroke="#4a4a4c" stroke-width="0.35">2010</text>
<text x="1087.00" y="582.30" font-size="14.4" font-weight="400" fill="#4a4a4c" textLength="24.00" lengthAdjust="spacingAndGlyphs" stroke="#4a4a4c" stroke-width="0.35">2014</text>
<text x="1134.00" y="582.30" font-size="14.4" font-weight="400" fill="#4a4a4c" textLength="24.00" lengthAdjust="spacingAndGlyphs" stroke="#4a4a4c" stroke-width="0.35">2018</text>
<g transform="translate(25.9,543) rotate(-90)">
<text x="0.00" y="0.00" font-size="15.4" font-weight="700" fill="#414143" textLength="149.40" lengthAdjust="spacingAndGlyphs" stroke="#414143" stroke-width="0.25">S&amp;P 500 Index Total Return</text>
<text x="152.00" y="0.00" font-size="15.4" font-weight="400" fill="#58585a" textLength="94.60" lengthAdjust="spacingAndGlyphs" stroke="#58585a" stroke-width="0.35">(Logarithmic Scale)</text>
</g>
<rect x="71.5" y="272.5" width="74.8" height="51.8" fill="#fff" stroke="#8a8a8a" stroke-width="1"/>
<text x="87.50" y="287.60" font-size="12.3" font-weight="700" fill="#46476a" textLength="42.00" lengthAdjust="spacingAndGlyphs">Duration</text>
<text x="77.50" y="302.60" font-size="12.3" font-weight="400" fill="#5b5b66" textLength="61.50" lengthAdjust="spacingAndGlyphs" stroke="#5b5b66" stroke-width="0.35">% Total Return</text>
<text x="80.00" y="317.60" font-size="12.3" font-weight="400" fill="#5b5b66" textLength="57.50" lengthAdjust="spacingAndGlyphs" stroke="#5b5b66" stroke-width="0.35">% Annualized</text>
<line x1="146.5" x2="174.5" y1="283.3" y2="283.3" stroke="#555" stroke-width="1"/>
<line x1="146.5" x2="182.5" y1="298.8" y2="298.8" stroke="#555" stroke-width="1"/>
<line x1="146.5" x2="186.5" y1="314.3" y2="314.3" stroke="#555" stroke-width="1"/>
<text x="55.00" y="350.00" font-size="12.8" font-weight="700" fill="#1b2c4b" textLength="42.50" lengthAdjust="spacingAndGlyphs">3.7 years</text>
<text x="60.75" y="365.00" font-size="12.4" font-weight="400" fill="#3c465c" textLength="31.25" lengthAdjust="spacingAndGlyphs" stroke="#3c465c" stroke-width="0.35">193.3%</text>
<text x="62.50" y="380.00" font-size="12.4" font-weight="400" fill="#3c465c" textLength="27.00" lengthAdjust="spacingAndGlyphs" stroke="#3c465c" stroke-width="0.35">34.1%</text>
<text x="120.50" y="341.25" font-size="12.8" font-weight="700" fill="#1b2c4b" textLength="30.00" lengthAdjust="spacingAndGlyphs">2 mos</text>
<text x="120.00" y="356.25" font-size="12.4" font-weight="400" fill="#3c465c" textLength="30.75" lengthAdjust="spacingAndGlyphs" stroke="#3c465c" stroke-width="0.35">91.6%</text>
<text x="126.25" y="372.00" font-size="12.4" font-weight="400" fill="#3c465c" textLength="18.25" lengthAdjust="spacingAndGlyphs" stroke="#3c465c" stroke-width="0.35">N/A</text>
<text x="181.25" y="288.25" font-size="12.8" font-weight="700" fill="#1b2c4b" textLength="46.75" lengthAdjust="spacingAndGlyphs">4.4 years</text>
<text x="186.25" y="303.75" font-size="12.4" font-weight="400" fill="#3c465c" textLength="35.75" lengthAdjust="spacingAndGlyphs" stroke="#3c465c" stroke-width="0.35">265.4%</text>
<text x="189.25" y="318.75" font-size="12.4" font-weight="400" fill="#3c465c" textLength="30.25" lengthAdjust="spacingAndGlyphs" stroke="#3c465c" stroke-width="0.35">34.1%</text>
<text x="207.50" y="352.50" font-size="12.8" font-weight="700" fill="#1b2c4b" textLength="46.25" lengthAdjust="spacingAndGlyphs">1.8 years</text>
<text x="215.50" y="367.00" font-size="12.4" font-weight="400" fill="#3c465c" textLength="29.50" lengthAdjust="spacingAndGlyphs" stroke="#3c465c" stroke-width="0.35">43.6%</text>
<text x="215.50" y="382.50" font-size="12.4" font-weight="400" fill="#3c465c" textLength="29.50" lengthAdjust="spacingAndGlyphs" stroke="#3c465c" stroke-width="0.35">21.8%</text>
<text x="267.00" y="304.50" font-size="12.8" font-weight="700" fill="#1b2c4b" textLength="46.00" lengthAdjust="spacingAndGlyphs">4.1 years</text>
<text x="272.00" y="320.00" font-size="12.4" font-weight="400" fill="#3c465c" textLength="35.50" lengthAdjust="spacingAndGlyphs" stroke="#3c465c" stroke-width="0.35">209.9%</text>
<text x="274.50" y="335.75" font-size="12.4" font-weight="400" fill="#3c465c" textLength="30.50" lengthAdjust="spacingAndGlyphs" stroke="#3c465c" stroke-width="0.35">31.9%</text>
<text x="367.00" y="291.25" font-size="12.8" font-weight="700" fill="#1b2c4b" textLength="48.00" lengthAdjust="spacingAndGlyphs">14.8 years</text>
<text x="374.25" y="306.25" font-size="12.4" font-weight="400" fill="#3c465c" textLength="32.75" lengthAdjust="spacingAndGlyphs" stroke="#3c465c" stroke-width="0.35">908.5%</text>
<text x="377.50" y="321.25" font-size="12.4" font-weight="400" fill="#3c465c" textLength="26.25" lengthAdjust="spacingAndGlyphs" stroke="#3c465c" stroke-width="0.35">16.9%</text>
<text x="524.50" y="327.50" font-size="12.8" font-weight="700" fill="#1b2c4b" textLength="42.50" lengthAdjust="spacingAndGlyphs">6.4 years</text>
<text x="530.00" y="342.00" font-size="12.4" font-weight="400" fill="#3c465c" textLength="31.25" lengthAdjust="spacingAndGlyphs" stroke="#3c465c" stroke-width="0.35">143.7%</text>
<text x="532.50" y="357.50" font-size="12.4" font-weight="400" fill="#3c465c" textLength="26.25" lengthAdjust="spacingAndGlyphs" stroke="#3c465c" stroke-width="0.35">14.9%</text>
<text x="595.50" y="338.25" font-size="12.8" font-weight="700" fill="#1b2c4b" textLength="42.00" lengthAdjust="spacingAndGlyphs">2.5 years</text>
<text x="602.50" y="353.25" font-size="12.4" font-weight="400" fill="#3c465c" textLength="27.50" lengthAdjust="spacingAndGlyphs" stroke="#3c465c" stroke-width="0.35">75.6%</text>
<text x="602.50" y="368.25" font-size="12.4" font-weight="400" fill="#3c465c" textLength="27.50" lengthAdjust="spacingAndGlyphs" stroke="#3c465c" stroke-width="0.35">25.3%</text>
<text x="714.50" y="288.25" font-size="12.8" font-weight="700" fill="#1b2c4b" textLength="47.50" lengthAdjust="spacingAndGlyphs">12.7 years</text>
<text x="721.25" y="303.25" font-size="12.4" font-weight="400" fill="#3c465c" textLength="33.00" lengthAdjust="spacingAndGlyphs" stroke="#3c465c" stroke-width="0.35">762.6%</text>
<text x="725.00" y="318.25" font-size="12.4" font-weight="400" fill="#3c465c" textLength="26.25" lengthAdjust="spacingAndGlyphs" stroke="#3c465c" stroke-width="0.35">18.5%</text>
<text x="863.00" y="288.25" font-size="12.8" font-weight="700" fill="#1b2c4b" textLength="47.75" lengthAdjust="spacingAndGlyphs">12.8 years</text>
<text x="870.00" y="303.25" font-size="12.4" font-weight="400" fill="#3c465c" textLength="33.00" lengthAdjust="spacingAndGlyphs" stroke="#3c465c" stroke-width="0.35">814.1%</text>
<text x="873.75" y="318.25" font-size="12.4" font-weight="400" fill="#3c465c" textLength="26.25" lengthAdjust="spacingAndGlyphs" stroke="#3c465c" stroke-width="0.35">19.0%</text>
<text x="976.50" y="338.25" font-size="12.8" font-weight="700" fill="#1b2c4b" textLength="42.25" lengthAdjust="spacingAndGlyphs">5.1 years</text>
<text x="981.50" y="353.25" font-size="12.4" font-weight="400" fill="#3c465c" textLength="32.25" lengthAdjust="spacingAndGlyphs" stroke="#3c465c" stroke-width="0.35">108.4%</text>
<text x="984.50" y="368.25" font-size="12.4" font-weight="400" fill="#3c465c" textLength="26.25" lengthAdjust="spacingAndGlyphs" stroke="#3c465c" stroke-width="0.35">15.5%</text>
<text x="1102.00" y="288.75" font-size="12.8" font-weight="700" fill="#1b2c4b" textLength="47.50" lengthAdjust="spacingAndGlyphs">10.1 years</text>
<text x="1109.50" y="304.25" font-size="12.4" font-weight="400" fill="#3c465c" textLength="32.00" lengthAdjust="spacingAndGlyphs" stroke="#3c465c" stroke-width="0.35">376.5%</text>
<text x="1112.00" y="319.50" font-size="12.4" font-weight="400" fill="#3c465c" textLength="27.00" lengthAdjust="spacingAndGlyphs" stroke="#3c465c" stroke-width="0.35">16.7%</text>
<text x="92.00" y="508.00" font-size="12.8" font-weight="700" fill="#ee9440" textLength="41.75" lengthAdjust="spacingAndGlyphs">2.8 years</text>
<text x="97.50" y="523.75" font-size="12.4" font-weight="400" fill="#f0a05a" textLength="30.75" lengthAdjust="spacingAndGlyphs" stroke="#f0a05a" stroke-width="0.35">-83.4%</text>
<text x="97.50" y="538.25" font-size="12.4" font-weight="400" fill="#f0a05a" textLength="30.75" lengthAdjust="spacingAndGlyphs" stroke="#f0a05a" stroke-width="0.35">-47.0%</text>
<text x="144.50" y="448.75" font-size="12.8" font-weight="700" fill="#ee9440" textLength="28.00" lengthAdjust="spacingAndGlyphs">6 mos</text>
<text x="143.00" y="463.75" font-size="12.4" font-weight="400" fill="#f0a05a" textLength="30.75" lengthAdjust="spacingAndGlyphs" stroke="#f0a05a" stroke-width="0.35">-29.8%</text>
<text x="148.00" y="478.25" font-size="12.4" font-weight="400" fill="#f0a05a" textLength="17.50" lengthAdjust="spacingAndGlyphs" stroke="#f0a05a" stroke-width="0.35">N/A*</text>
<text x="190.50" y="466.25" font-size="12.8" font-weight="700" fill="#ee9440" textLength="32.00" lengthAdjust="spacingAndGlyphs">10 mos</text>
<text x="191.25" y="481.25" font-size="12.4" font-weight="400" fill="#f0a05a" textLength="30.75" lengthAdjust="spacingAndGlyphs" stroke="#f0a05a" stroke-width="0.35">-42.0%</text>
<text x="196.25" y="495.75" font-size="12.4" font-weight="400" fill="#f0a05a" textLength="18.75" lengthAdjust="spacingAndGlyphs" stroke="#f0a05a" stroke-width="0.35">N/A*</text>
<text x="225.00" y="445.00" font-size="12.8" font-weight="700" fill="#ee9440" textLength="42.00" lengthAdjust="spacingAndGlyphs">2.1 years</text>
<text x="231.25" y="460.00" font-size="12.4" font-weight="400" fill="#f0a05a" textLength="30.00" lengthAdjust="spacingAndGlyphs" stroke="#f0a05a" stroke-width="0.35">-27.8%</text>
<text x="232.50" y="474.50" font-size="12.4" font-weight="400" fill="#f0a05a" textLength="26.25" lengthAdjust="spacingAndGlyphs" stroke="#f0a05a" stroke-width="0.35">-14.5*</text>
<text x="295.75" y="443.00" font-size="12.8" font-weight="700" fill="#ee9440" textLength="32.50" lengthAdjust="spacingAndGlyphs">11 mos</text>
<text x="297.00" y="458.75" font-size="12.4" font-weight="400" fill="#f0a05a" textLength="30.00" lengthAdjust="spacingAndGlyphs" stroke="#f0a05a" stroke-width="0.35">-21.0%</text>
<text x="301.25" y="473.75" font-size="12.4" font-weight="400" fill="#f0a05a" textLength="20.00" lengthAdjust="spacingAndGlyphs" stroke="#f0a05a" stroke-width="0.35">N/A*</text>
<text x="472.50" y="443.00" font-size="12.8" font-weight="700" fill="#ee9440" textLength="44.50" lengthAdjust="spacingAndGlyphs">4 months</text>
<text x="481.25" y="458.75" font-size="12.4" font-weight="400" fill="#f0a05a" textLength="26.75" lengthAdjust="spacingAndGlyphs" stroke="#f0a05a" stroke-width="0.35">21.0%</text>
<text x="484.50" y="473.75" font-size="12.4" font-weight="400" fill="#f0a05a" textLength="20.50" lengthAdjust="spacingAndGlyphs" stroke="#f0a05a" stroke-width="0.35">N/A*</text>
<text x="567.50" y="448.25" font-size="12.8" font-weight="700" fill="#ee9440" textLength="41.25" lengthAdjust="spacingAndGlyphs">1.6 years</text>
<text x="572.50" y="463.25" font-size="12.4" font-weight="400" fill="#f0a05a" textLength="30.75" lengthAdjust="spacingAndGlyphs" stroke="#f0a05a" stroke-width="0.35">-29.3%</text>
<text x="572.50" y="478.25" font-size="12.4" font-weight="400" fill="#f0a05a" textLength="30.75" lengthAdjust="spacingAndGlyphs" stroke="#f0a05a" stroke-width="0.35">-19.6%</text>
<text x="618.25" y="462.50" font-size="12.8" font-weight="700" fill="#ee9440" textLength="41.75" lengthAdjust="spacingAndGlyphs">2.0 years</text>
<text x="623.75" y="477.50" font-size="12.4" font-weight="400" fill="#f0a05a" textLength="30.75" lengthAdjust="spacingAndGlyphs" stroke="#f0a05a" stroke-width="0.35">-37.2%</text>
<text x="623.75" y="492.50" font-size="12.4" font-weight="400" fill="#f0a05a" textLength="30.75" lengthAdjust="spacingAndGlyphs" stroke="#f0a05a" stroke-width="0.35">-20.8%</text>
<text x="771.25" y="448.75" font-size="12.8" font-weight="700" fill="#ee9440" textLength="45.00" lengthAdjust="spacingAndGlyphs">3 months</text>
<text x="778.25" y="463.25" font-size="12.4" font-weight="400" fill="#f0a05a" textLength="30.50" lengthAdjust="spacingAndGlyphs" stroke="#f0a05a" stroke-width="0.35">-29.5%</text>
<text x="783.25" y="478.25" font-size="12.4" font-weight="400" fill="#f0a05a" textLength="19.25" lengthAdjust="spacingAndGlyphs" stroke="#f0a05a" stroke-width="0.35">N/A*</text>
<text x="947.00" y="460.75" font-size="12.8" font-weight="700" fill="#ee9440" textLength="42.50" lengthAdjust="spacingAndGlyphs">2.1 years</text>
<text x="952.50" y="476.25" font-size="12.4" font-weight="400" fill="#f0a05a" textLength="31.25" lengthAdjust="spacingAndGlyphs" stroke="#f0a05a" stroke-width="0.35">-44.7%</text>
<text x="952.50" y="491.25" font-size="12.4" font-weight="400" fill="#f0a05a" textLength="31.25" lengthAdjust="spacingAndGlyphs" stroke="#f0a05a" stroke-width="0.35">-24.8%</text>
<text x="1024.50" y="471.25" font-size="12.8" font-weight="700" fill="#ee9440" textLength="41.75" lengthAdjust="spacingAndGlyphs">1.3 years</text>
<text x="1030.00" y="486.25" font-size="12.4" font-weight="400" fill="#f0a05a" textLength="30.75" lengthAdjust="spacingAndGlyphs" stroke="#f0a05a" stroke-width="0.35">-50.9%</text>
<text x="1030.00" y="501.25" font-size="12.4" font-weight="400" fill="#f0a05a" textLength="30.75" lengthAdjust="spacingAndGlyphs" stroke="#f0a05a" stroke-width="0.35">-41.4%</text>
<rect x="471" y="606.8" width="19.5" height="8.8" fill="url(#lb)"/>
<text x="493.00" y="615.90" font-size="15.8" font-weight="400" fill="#4a4a4c" textLength="58.00" lengthAdjust="spacingAndGlyphs" stroke="#4a4a4c" stroke-width="0.35">Bull Market</text>
<rect x="575.5" y="606.8" width="18" height="8.8" fill="url(#lo)"/>
<text x="598.20" y="615.90" font-size="15.8" font-weight="400" fill="#4a4a4c" textLength="61.30" lengthAdjust="spacingAndGlyphs" stroke="#4a4a4c" stroke-width="0.35">Bear Market</text>
<rect x="681" y="606.8" width="18" height="8.8" fill="#e9e9e9"/>
<text x="703.20" y="615.90" font-size="15.8" font-weight="400" fill="#4a4a4c" textLength="49.50" lengthAdjust="spacingAndGlyphs" stroke="#4a4a4c" stroke-width="0.35">Recession</text>
<text x="7.00" y="667.00" font-size="11.9" font-weight="400" fill="#3e3e40" textLength="128.00" lengthAdjust="spacingAndGlyphs" stroke="#3e3e40" stroke-width="0.35">Source: First Trust Advisors L.P.,</text>
<text x="137.50" y="667.00" font-size="11.9" font-weight="400" fill="#3e3e40" textLength="54.90" lengthAdjust="spacingAndGlyphs" stroke="#3e3e40" stroke-width="0.35">Morningstar.</text>
<text x="194.90" y="667.00" font-size="11.9" font-weight="400" fill="#3e3e40" textLength="120.60" lengthAdjust="spacingAndGlyphs" stroke="#3e3e40" stroke-width="0.35">Returns from 1926 - 3/29/19.</text>
<text x="320.00" y="667.00" font-size="11.9" font-weight="400" fill="#3e3e40" textLength="214.00" lengthAdjust="spacingAndGlyphs" stroke="#3e3e40" stroke-width="0.35">*Not applicable since duration is less than one year.</text>
<text transform="translate(616.93,111.40) scale(0.5992,1)" font-size="41.31" font-weight="700" fill="#0f2c54">B</text>
<text transform="translate(617.73,111.40) scale(0.5992,1)" font-size="41.31" font-weight="700" fill="#0f2c54">B</text>
<text transform="translate(618.53,111.40) scale(0.5992,1)" font-size="41.31" font-weight="700" fill="#0f2c54">B</text>
<text transform="translate(641.47,111.40) scale(0.6173,1)" font-size="41.31" font-weight="700" fill="#0f2c54">U</text>
<text transform="translate(642.27,111.40) scale(0.6173,1)" font-size="41.31" font-weight="700" fill="#0f2c54">U</text>
<text transform="translate(643.07,111.40) scale(0.6173,1)" font-size="41.31" font-weight="700" fill="#0f2c54">U</text>
<text transform="translate(668.52,111.40) scale(0.4960,1)" font-size="41.31" font-weight="700" fill="#0f2c54">L</text>
<text transform="translate(669.32,111.40) scale(0.4960,1)" font-size="41.31" font-weight="700" fill="#0f2c54">L</text>
<text transform="translate(670.12,111.40) scale(0.4960,1)" font-size="41.31" font-weight="700" fill="#0f2c54">L</text>
<text transform="translate(688.79,111.40) scale(0.5054,1)" font-size="41.31" font-weight="700" fill="#0f2c54">L</text>
<text transform="translate(689.59,111.40) scale(0.5054,1)" font-size="41.31" font-weight="700" fill="#0f2c54">L</text>
<text transform="translate(690.39,111.40) scale(0.5054,1)" font-size="41.31" font-weight="700" fill="#0f2c54">L</text>
<text transform="translate(942.35,111.40) scale(0.5913,1)" font-size="41.31" font-weight="700" fill="#f09a35">B</text>
<text transform="translate(943.15,111.40) scale(0.5913,1)" font-size="41.31" font-weight="700" fill="#f09a35">B</text>
<text transform="translate(943.95,111.40) scale(0.5913,1)" font-size="41.31" font-weight="700" fill="#f09a35">B</text>
<text transform="translate(967.74,111.40) scale(0.4885,1)" font-size="41.31" font-weight="700" fill="#f09a35">E</text>
<text transform="translate(968.54,111.40) scale(0.4885,1)" font-size="41.31" font-weight="700" fill="#f09a35">E</text>
<text transform="translate(969.34,111.40) scale(0.4885,1)" font-size="41.31" font-weight="700" fill="#f09a35">E</text>
<text transform="translate(987.98,111.40) scale(0.5962,1)" font-size="41.31" font-weight="700" fill="#f09a35">A</text>
<text transform="translate(988.78,111.40) scale(0.5962,1)" font-size="41.31" font-weight="700" fill="#f09a35">A</text>
<text transform="translate(989.58,111.40) scale(0.5962,1)" font-size="41.31" font-weight="700" fill="#f09a35">A</text>
<text transform="translate(1012.52,111.40) scale(0.5664,1)" font-size="41.31" font-weight="700" fill="#f09a35">R</text>
<text transform="translate(1013.32,111.40) scale(0.5664,1)" font-size="41.31" font-weight="700" fill="#f09a35">R</text>
<text transform="translate(1014.12,111.40) scale(0.5664,1)" font-size="41.31" font-weight="700" fill="#f09a35">R</text>
</svg>
<div style="position:absolute;left:20.5px;top:14.70px;width:582.14px;height:20px;line-height:20px;font-size:16.3px;color:#484b51;white-space:normal;transform-origin:0 0;transform:scaleX(0.7000);text-shadow:0.4px 0 0 #484b51;text-align:justify;text-align-last:justify;">This chart shows historical performance of the S&amp;P 500 Index throughout the</div>
<div style="position:absolute;left:20.5px;top:36.30px;width:582.14px;height:20px;line-height:20px;font-size:16.3px;color:#484b51;white-space:normal;transform-origin:0 0;transform:scaleX(0.7000);text-shadow:0.4px 0 0 #484b51;text-align:justify;text-align-last:justify;">U.S. Bull and Bear Markets from 1926 through March 2019. Although past</div>
<div style="position:absolute;left:20.5px;top:57.90px;width:582.14px;height:20px;line-height:20px;font-size:16.3px;color:#484b51;white-space:normal;transform-origin:0 0;transform:scaleX(0.7000);text-shadow:0.4px 0 0 #484b51;text-align:justify;text-align-last:justify;">performance is no guarantee of future results, we believe looking at the history</div>
<div style="position:absolute;left:20.5px;top:79.30px;width:582.14px;height:20px;line-height:20px;font-size:16.3px;color:#484b51;white-space:normal;transform-origin:0 0;transform:scaleX(0.7000);text-shadow:0.4px 0 0 #484b51;text-align:justify;text-align-last:justify;">of the market’s expansions and recessions helps to gain a fresh perspective on</div>
<div style="position:absolute;left:20.5px;top:100.70px;width:299.91px;height:20px;line-height:20px;font-size:16.3px;color:#484b51;white-space:nowrap;transform-origin:0 0;transform:scaleX(0.7302);text-shadow:0.4px 0 0 #484b51;">the benefits of investing for the long-term.</div>
<div style="position:absolute;left:42.8px;top:137.2px;width:4.8px;height:4.8px;border-radius:50%;background:#222"></div>
<div style="position:absolute;left:42.8px;top:184.8px;width:4.8px;height:4.8px;border-radius:50%;background:#222"></div>
<div style="position:absolute;left:58.3px;top:127.70px;width:472.96px;height:20px;line-height:20px;font-size:16.3px;color:#484b51;white-space:nowrap;transform-origin:0 0;transform:scaleX(0.7077);text-shadow:0.4px 0 0 #484b51;">The average <b class="n" style="text-shadow:none">Bull Market</b> period lasted 6.5 years with an average</div>
<div style="position:absolute;left:58.3px;top:147.90px;width:229.23px;height:20px;line-height:20px;font-size:16.3px;color:#484b51;white-space:nowrap;transform-origin:0 0;transform:scaleX(0.7272);text-shadow:0.4px 0 0 #484b51;">cumulative total return of 333%.</div>
<div style="position:absolute;left:58.3px;top:175.20px;width:478.43px;height:20px;line-height:20px;font-size:16.3px;color:#484b51;white-space:nowrap;transform-origin:0 0;transform:scaleX(0.7079);text-shadow:0.4px 0 0 #484b51;">The average <b class="o" style="text-shadow:none">Bear Market</b> period lasted 1.3 years with an average</div>
<div style="position:absolute;left:58.3px;top:195.60px;width:176.66px;height:20px;line-height:20px;font-size:16.3px;color:#484b51;white-space:nowrap;transform-origin:0 0;transform:scaleX(0.7115);text-shadow:0.4px 0 0 #484b51;">cumulative loss of -38%.</div>
<div style="position:absolute;left:577.6px;top:122.50px;width:243.21px;height:20px;line-height:20px;font-size:15.3px;color:#4d4e52;white-space:nowrap;transform-origin:0 0;transform:scaleX(0.6751);text-shadow:0.4px 0 0 #4d4e52;">From the lowest close reached after</div>
<div style="position:absolute;left:577.6px;top:144.20px;width:238.12px;height:20px;line-height:20px;font-size:15.3px;color:#4d4e52;white-space:nowrap;transform-origin:0 0;transform:scaleX(0.6862);text-shadow:0.4px 0 0 #4d4e52;">the market has fallen 20% or more,</div>
<div style="position:absolute;left:603.3px;top:165.30px;width:159.89px;height:20px;line-height:20px;font-size:15.3px;color:#4d4e52;white-space:nowrap;transform-origin:0 0;transform:scaleX(0.7017);text-shadow:0.4px 0 0 #4d4e52;">to the next market high.</div>
<div style="position:absolute;left:878px;top:122.50px;width:319.77px;height:20px;line-height:20px;font-size:15.3px;color:#4d4e52;white-space:nowrap;transform-origin:0 0;transform:scaleX(0.6805);text-shadow:0.4px 0 0 #4d4e52;">From when the index closes at least 20% down</div>
<div style="position:absolute;left:876px;top:144.10px;width:318.92px;height:20px;line-height:20px;font-size:15.3px;color:#4d4e52;white-space:nowrap;transform-origin:0 0;transform:scaleX(0.6930);text-shadow:0.4px 0 0 #4d4e52;">from its previous high close, through the lowest</div>
<div style="position:absolute;left:882px;top:165.10px;width:307.87px;height:20px;line-height:20px;font-size:15.3px;color:#4d4e52;white-space:nowrap;transform-origin:0 0;transform:scaleX(0.6805);text-shadow:0.4px 0 0 #4d4e52;">close reached after it has fallen 20% or more.</div>
</body></html>
